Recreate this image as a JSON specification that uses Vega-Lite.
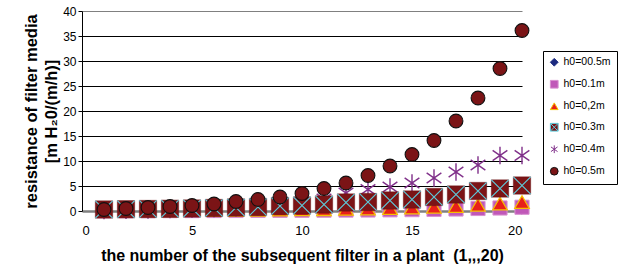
{
  "$schema": "https://vega.github.io/schema/vega-lite/v6.json",
  "autosize": "none",
  "width": 440,
  "height": 200,
  "padding": {"left": 82, "top": 11, "right": 96, "bottom": 60},
  "background": "white",
  "config": {"view": {"stroke": null}, "font": "Liberation Sans",
    "legend": {"orient": "none", "legendX": 461, "legendY": 40, "title": null,
        "strokeColor": "black", "padding": 6, "fillColor": "white",
        "labelFontSize": 10.5, "labelColor": "black", "labelFont": "Liberation Sans",
        "symbolSize": 60, "rowPadding": 9, "labelOffset": 4, "symbolStrokeWidth": 1}},
  "data": {"values": [
    {"x":1,"s":"h0=00.5m","y":0.01},{"x":2,"s":"h0=00.5m","y":0.01},{"x":3,"s":"h0=00.5m","y":0.01},{"x":4,"s":"h0=00.5m","y":0.01},{"x":5,"s":"h0=00.5m","y":0.01},{"x":6,"s":"h0=00.5m","y":0.01},{"x":7,"s":"h0=00.5m","y":0.01},{"x":8,"s":"h0=00.5m","y":0.01},{"x":9,"s":"h0=00.5m","y":0.01},{"x":10,"s":"h0=00.5m","y":0.02},{"x":11,"s":"h0=00.5m","y":0.02},{"x":12,"s":"h0=00.5m","y":0.02},{"x":13,"s":"h0=00.5m","y":0.02},{"x":14,"s":"h0=00.5m","y":0.02},{"x":15,"s":"h0=00.5m","y":0.03},{"x":16,"s":"h0=00.5m","y":0.03},{"x":17,"s":"h0=00.5m","y":0.03},{"x":18,"s":"h0=00.5m","y":0.04},{"x":19,"s":"h0=00.5m","y":0.04},{"x":20,"s":"h0=00.5m","y":0.05},
    {"x":1,"s":"h0=0.1m","y":0.05},{"x":2,"s":"h0=0.1m","y":0.05},{"x":3,"s":"h0=0.1m","y":0.06},{"x":4,"s":"h0=0.1m","y":0.07},{"x":5,"s":"h0=0.1m","y":0.08},{"x":6,"s":"h0=0.1m","y":0.09},{"x":7,"s":"h0=0.1m","y":0.1},{"x":8,"s":"h0=0.1m","y":0.11},{"x":9,"s":"h0=0.1m","y":0.12},{"x":10,"s":"h0=0.1m","y":0.14},{"x":11,"s":"h0=0.1m","y":0.16},{"x":12,"s":"h0=0.1m","y":0.18},{"x":13,"s":"h0=0.1m","y":0.2},{"x":14,"s":"h0=0.1m","y":0.23},{"x":15,"s":"h0=0.1m","y":0.27},{"x":16,"s":"h0=0.1m","y":0.32},{"x":17,"s":"h0=0.1m","y":0.4},{"x":18,"s":"h0=0.1m","y":0.5},{"x":19,"s":"h0=0.1m","y":0.6},{"x":20,"s":"h0=0.1m","y":0.75},
    {"x":1,"s":"h0=0,2m","y":0.1},{"x":2,"s":"h0=0,2m","y":0.12},{"x":3,"s":"h0=0,2m","y":0.14},{"x":4,"s":"h0=0,2m","y":0.16},{"x":5,"s":"h0=0,2m","y":0.18},{"x":6,"s":"h0=0,2m","y":0.2},{"x":7,"s":"h0=0,2m","y":0.22},{"x":8,"s":"h0=0,2m","y":0.25},{"x":9,"s":"h0=0,2m","y":0.28},{"x":10,"s":"h0=0,2m","y":0.32},{"x":11,"s":"h0=0,2m","y":0.36},{"x":12,"s":"h0=0,2m","y":0.42},{"x":13,"s":"h0=0,2m","y":0.5},{"x":14,"s":"h0=0,2m","y":0.6},{"x":15,"s":"h0=0,2m","y":0.7},{"x":16,"s":"h0=0,2m","y":0.85},{"x":17,"s":"h0=0,2m","y":1.0},{"x":18,"s":"h0=0,2m","y":1.25},{"x":19,"s":"h0=0,2m","y":1.5},{"x":20,"s":"h0=0,2m","y":1.8},
    {"x":1,"s":"h0=0.4m","y":0.1},{"x":2,"s":"h0=0.4m","y":0.15},{"x":3,"s":"h0=0.4m","y":0.2},{"x":4,"s":"h0=0.4m","y":0.3},{"x":5,"s":"h0=0.4m","y":0.4},{"x":6,"s":"h0=0.4m","y":0.5},{"x":7,"s":"h0=0.4m","y":0.65},{"x":8,"s":"h0=0.4m","y":0.85},{"x":9,"s":"h0=0.4m","y":1.3},{"x":10,"s":"h0=0.4m","y":1.8},{"x":11,"s":"h0=0.4m","y":2.4},{"x":12,"s":"h0=0.4m","y":3.6},{"x":13,"s":"h0=0.4m","y":4.3},{"x":14,"s":"h0=0.4m","y":4.8},{"x":15,"s":"h0=0.4m","y":5.6},{"x":16,"s":"h0=0.4m","y":6.6},{"x":17,"s":"h0=0.4m","y":7.8},{"x":18,"s":"h0=0.4m","y":9.2},{"x":19,"s":"h0=0.4m","y":11.1},{"x":20,"s":"h0=0.4m","y":11.1},
    {"x":1,"s":"h0=0.3m","y":0.3},{"x":2,"s":"h0=0.3m","y":0.35},{"x":3,"s":"h0=0.3m","y":0.4},{"x":4,"s":"h0=0.3m","y":0.45},{"x":5,"s":"h0=0.3m","y":0.5},{"x":6,"s":"h0=0.3m","y":0.6},{"x":7,"s":"h0=0.3m","y":0.7},{"x":8,"s":"h0=0.3m","y":0.8},{"x":9,"s":"h0=0.3m","y":1.0},{"x":10,"s":"h0=0.3m","y":1.1},{"x":11,"s":"h0=0.3m","y":1.3},{"x":12,"s":"h0=0.3m","y":1.7},{"x":13,"s":"h0=0.3m","y":1.8},{"x":14,"s":"h0=0.3m","y":2.1},{"x":15,"s":"h0=0.3m","y":2.3},{"x":16,"s":"h0=0.3m","y":2.8},{"x":17,"s":"h0=0.3m","y":3.3},{"x":18,"s":"h0=0.3m","y":4.0},{"x":19,"s":"h0=0.3m","y":4.5},{"x":20,"s":"h0=0.3m","y":5.1},
    {"x":1,"s":"h0=0.5m","y":0.3},{"x":2,"s":"h0=0.5m","y":0.5},{"x":3,"s":"h0=0.5m","y":0.7},{"x":4,"s":"h0=0.5m","y":0.9},{"x":5,"s":"h0=0.5m","y":1.1},{"x":6,"s":"h0=0.5m","y":1.4},{"x":7,"s":"h0=0.5m","y":1.9},{"x":8,"s":"h0=0.5m","y":2.3},{"x":9,"s":"h0=0.5m","y":2.8},{"x":10,"s":"h0=0.5m","y":3.5},{"x":11,"s":"h0=0.5m","y":4.5},{"x":12,"s":"h0=0.5m","y":5.6},{"x":13,"s":"h0=0.5m","y":7.1},{"x":14,"s":"h0=0.5m","y":9.0},{"x":15,"s":"h0=0.5m","y":11.3},{"x":16,"s":"h0=0.5m","y":14.1},{"x":17,"s":"h0=0.5m","y":18.0},{"x":18,"s":"h0=0.5m","y":22.6},{"x":19,"s":"h0=0.5m","y":28.5},{"x":20,"s":"h0=0.5m","y":36.1}
  ]},
  "encoding": {
    "x": {"field": "x", "type": "quantitative",
      "scale": {"domain": [0, 20], "nice": false, "zero": true},
      "axis": {"values": [0,5,10,15,20], "grid": false, "ticks": false, "domain": false,
        "labelFontSize": 13, "labelColor": "black", "labelPadding": 13, "labelFont": "Liberation Sans",
        "title": "the number of the subsequent filter in a plant\u00a0\u00a0(1,,,20)",
        "titleFontSize": 16, "titleFontWeight": "bold", "titleColor": "black", "titlePadding": 10, "titleFont": "Liberation Sans"}},
    "y": {"field": "y", "type": "quantitative",
      "scale": {"domain": [0, 40], "nice": false},
      "axis": {"values": [0,5,10,15,20,25,30,35,40], "grid": true,
        "gridColor": {"condition": {"test": "datum.value === 40 || datum.value === 0", "value": "#808080"}, "value": "black"},
        "gridWidth": {"condition": {"test": "datum.value === 0", "value": 2.5}, "value": 1},
        "gridOpacity": 1,
        "domain": true, "domainColor": "black", "domainWidth": 1,
        "ticks": true, "tickSize": 4, "tickColor": "black",
        "labelFontSize": 12, "labelColor": "black", "labelPadding": 2, "labelFont": "Liberation Sans",
        "title": ["resistance of filter media", "[m H₂0/(m/h)]"],
        "titleFontSize": 16.5, "titleFontWeight": "bold", "titleColor": "black", "titlePadding": 3, "titleFont": "Liberation Sans", "titleLineHeight": 20}},
    "shape": {"field": "s", "type": "nominal",
      "scale": {"domain": ["h0=00.5m","h0=0.1m","h0=0,2m","h0=0.3m","h0=0.4m","h0=0.5m"],
        "range": ["diamond","square","triangle-up","M-1,-1H1V1H-1ZM-1,-1L1,1M-1,1L1,-1","M0,-1L0,1M-0.85,-0.6L0.85,0.6M-0.85,0.6L0.85,-0.6","circle"]}},
    "fill": {"field": "s", "type": "nominal",
      "scale": {"domain": ["h0=00.5m","h0=0.1m","h0=0,2m","h0=0.3m","h0=0.4m","h0=0.5m"],
        "range": ["#1c2a80","#c058b8","#e8201a","#7b1416","#80308a","#7b1416"]}},
    "stroke": {"field": "s", "type": "nominal",
      "scale": {"domain": ["h0=00.5m","h0=0.1m","h0=0,2m","h0=0.3m","h0=0.4m","h0=0.5m"],
        "range": ["#1c2a80","#d890d0","#f5c000","#5ec8d8","#80308a","#111111"]}}
  },
  "layer": [
    {"transform": [{"filter": "datum.s === 'h0=00.5m'"}],
     "mark": {"type": "point", "filled": true, "size": 50, "strokeWidth": 1, "opacity": 1}},
    {"transform": [{"filter": "datum.s === 'h0=0.1m'"}],
     "mark": {"type": "point", "filled": true, "size": 200, "strokeWidth": 1, "opacity": 1}},
    {"transform": [{"filter": "datum.s === 'h0=0,2m'"}],
     "mark": {"type": "point", "filled": true, "size": 210, "strokeWidth": 1.3, "opacity": 1}},
    {"transform": [{"filter": "datum.s === 'h0=0.4m'"}],
     "mark": {"type": "point", "filled": true, "size": 300, "strokeWidth": 1.4, "opacity": 1}},
    {"transform": [{"filter": "datum.s === 'h0=0.3m'"}],
     "mark": {"type": "point", "filled": true, "size": 300, "strokeWidth": 0.5, "opacity": 1},
     "encoding": {"shape": {"value": "square"}, "stroke": {"value": "#6a1012"}}},
    {"transform": [{"filter": "datum.s === 'h0=0.3m'"}],
     "mark": {"type": "point", "filled": false, "size": 300, "strokeWidth": 1.2, "opacity": 1, "strokeOpacity": 1},
     "encoding": {"shape": {"value": "M-1,-1L1,1M-1,1L1,-1"}, "fill": {"value": null}, "stroke": {"value": "#5ec8d8"}}},
    {"transform": [{"filter": "datum.s === 'h0=0.5m'"}],
     "mark": {"type": "point", "filled": true, "size": 190, "strokeWidth": 1.1, "opacity": 1}}
  ]
}
